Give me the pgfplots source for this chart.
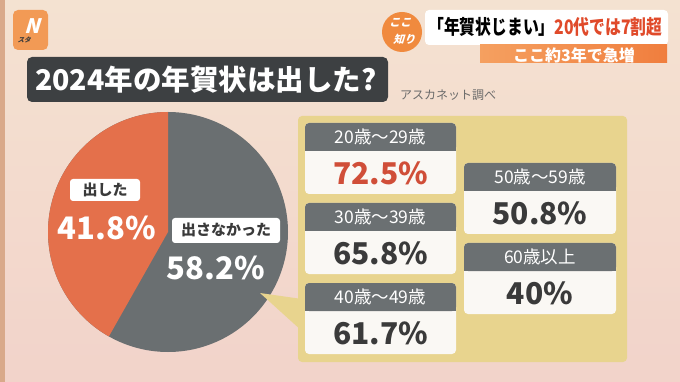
\documentclass[border=0pt]{standalone}
\usepackage{fontspec}
\setmainfont{Noto Sans CJK JP}
\newfontfamily\logofont[FakeSlant=0.3]{Noto Sans CJK JP}
\usepackage{graphicx}
\usepackage{pgfplots}
\pgfplotsset{compat=1.18}
\usepackage{pgfplotstable}

\definecolor{bgtop}{HTML}{F4E2D1}
\definecolor{bgbot}{HTML}{F2D3CA}
\definecolor{edge}{HTML}{D9A98A}
\definecolor{pieorange}{HTML}{E4704B}
\definecolor{piegray}{HTML}{6A6F71}
\definecolor{titlebox}{HTML}{3D4042}
\definecolor{panel}{HTML}{E8D48E}
\definecolor{cardhead}{HTML}{6B7072}
\definecolor{cardbody}{HTML}{FAF8F4}
\definecolor{valtext}{HTML}{3A3A3A}
\definecolor{valred}{HTML}{D04E38}
\definecolor{logo}{HTML}{F29A55}
\definecolor{capred}{HTML}{E04A2A}
\definecolor{band}{HTML}{F07E3E}
\definecolor{bandl}{HTML}{F5A060}
\definecolor{koko}{HTML}{F08A3E}
\definecolor{srcgray}{HTML}{6A6A6A}

\pgfplotstableread{
idx share
0 41.8
1 58.2
}\pietable
\pgfplotstablegetelem{0}{share}\of\pietable
\pgfmathsetmacro{\angB}{90+\pgfplotsretval*3.6}

% card: x1, x2, ytop, yhead, ymid, ybottom, label
\newcommand{\card}[7]{%
  \fill[cardbody, rounded corners=4pt] (axis cs:#1,#3) rectangle (axis cs:#2,#6);
  \fill[cardhead, rounded corners=4pt] (axis cs:#1,#3) rectangle (axis cs:#2,#4);
  \fill[cardhead] (axis cs:#1,#5) rectangle (axis cs:#2,#4);
  \node[white, font=\fontsize{17.5}{17.5}\selectfont] at (axis cs:#1/2+#2/2,#3/2+#4/2) {#7};
}

\begin{document}
\begin{tikzpicture}
\begin{axis}[name=ax,
  width=680pt, height=382pt, scale only axis,
  xmin=0, xmax=680, ymin=0, ymax=382, y dir=reverse,
  hide axis, clip=false,
]
% background
\shade[top color=bgtop, bottom color=bgbot] (axis cs:0,0) rectangle (axis cs:680,382);
\fill[edge] (axis cs:0,0) rectangle (axis cs:5,382);

% logo
\fill[logo, rounded corners=5pt] (axis cs:13,10) rectangle (axis cs:48,50);
\node[white, font=\logofont\bfseries\fontsize{20}{20}\selectfont] at (axis cs:32,26) {N};
\node[valtext, font=\logofont\bfseries\fontsize{6.5}{6.5}\selectfont] at (axis cs:24,40) {スタ};

% top right caption
\fill[koko] (axis cs:402,32) circle[radius=20pt];
\node[white, font=\logofont\bfseries\fontsize{11}{11}\selectfont] at (axis cs:400,23) {ここ};
\node[white, font=\logofont\bfseries\fontsize{11}{11}\selectfont] at (axis cs:404,39) {知り};
\fill[white, rounded corners=4pt] (axis cs:425,10) rectangle (axis cs:668,45);
\node[anchor=west, inner sep=0pt, font=\bfseries\fontsize{20}{20}\selectfont] at (axis cs:428,27)
  {\scalebox{0.79}[1]{\textcolor{black}{「年賀状じまい」}\textcolor{capred}{20代では7割超}}};
\shade[left color=bandl, right color=band] (axis cs:480,45) rectangle (axis cs:667,63);
\node[white, font=\bfseries\fontsize{16}{16}\selectfont] at (axis cs:574,55) {ここ約3年で急増};

% title
\fill[titlebox, rounded corners=5pt] (axis cs:27,57) rectangle (axis cs:388,102);
\node[white, anchor=west, inner sep=0pt, font=\bfseries\fontsize{28.5}{28.5}\selectfont] at (axis cs:35,80) {2024年の年賀状は出した?};
\node[srcgray, anchor=west, inner sep=0pt, font=\fontsize{12}{12}\selectfont] at (axis cs:400,95) {アスカネット調べ};

% pie
\addplot[draw=none, fill=piegray, domain=0:360, samples=181, variable=\t]
  ({168+120*cos(\t)}, {232-120*sin(\t)}) -- cycle;
\addplot[draw=none, fill=pieorange, domain=90:\angB, samples=100, variable=\t]
  ({168+120*cos(\t)}, {232-120*sin(\t)}) -- (axis cs:168,232) -- cycle;

% pie labels
\fill[white, rounded corners=3pt] (axis cs:70,179) rectangle (axis cs:140,201);
\node[valtext, font=\bfseries\fontsize{15}{15}\selectfont] at (axis cs:105,190) {出した};
\node[white, font=\bfseries\fontsize{31}{31}\selectfont] at (axis cs:107,228) {41.8\%};
\fill[white, rounded corners=3pt] (axis cs:172,218) rectangle (axis cs:280,243);
\node[valtext, font=\bfseries\fontsize{15}{15}\selectfont] at (axis cs:226,230) {出さなかった};
\node[white, font=\bfseries\fontsize{31}{31}\selectfont] at (axis cs:216,268) {58.2\%};

% pointer and panel
\fill[panel] (axis cs:260,293) -- (axis cs:302,299) -- (axis cs:302,331) -- cycle;
\fill[panel, rounded corners=4pt] (axis cs:298,116) rectangle (axis cs:627,362);

% cards
\card{305}{456}{123}{151}{143}{194}{20歳〜29歳}
\card{305}{456}{203}{231}{223}{274}{30歳〜39歳}
\card{305}{456}{283}{311}{303}{354}{40歳〜49歳}
\card{464}{616}{163}{191}{183}{234}{50歳〜59歳}
\card{464}{616}{243}{271}{263}{314}{60歳以上}

\node[valred, font=\bfseries\fontsize{30}{30}\selectfont] at (axis cs:380.5,173) {72.5\%};
\node[valtext, font=\bfseries\fontsize{30}{30}\selectfont] at (axis cs:380.5,253) {65.8\%};
\node[valtext, font=\bfseries\fontsize{30}{30}\selectfont] at (axis cs:380.5,333) {61.7\%};
\node[valtext, font=\bfseries\fontsize{30}{30}\selectfont] at (axis cs:540,213) {50.8\%};
\node[valtext, font=\bfseries\fontsize{30}{30}\selectfont] at (axis cs:540,293) {40\%};
\end{axis}
\pgfresetboundingbox
\useasboundingbox (ax.south west) rectangle (ax.north east);
\end{tikzpicture}
\end{document}
